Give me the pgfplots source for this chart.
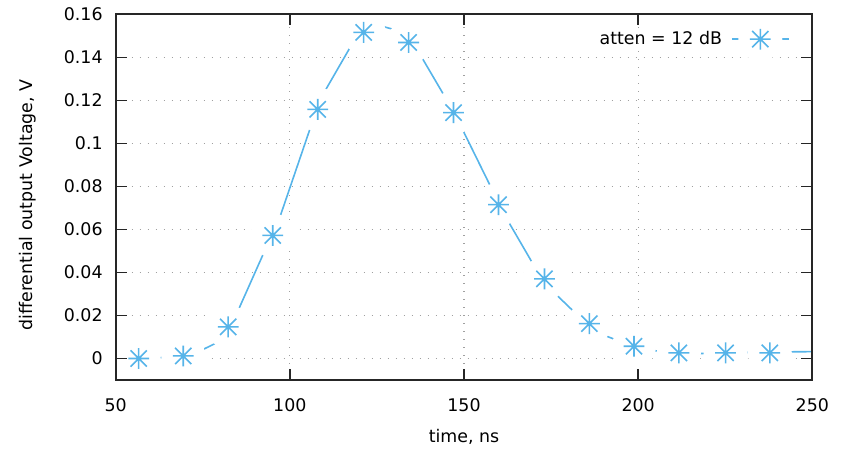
\documentclass[border=0pt]{standalone}
\usepackage{fontspec}
\setmainfont{DejaVu Sans}
\usepackage{pgfplots}
\pgfplotsset{compat=1.18}

\definecolor{gpblue}{HTML}{56B4E9}
\definecolor{gpgrid}{HTML}{A0A0A0}

% gnuplot pt 3 with a blank disc around it (pointinterval -1)
\pgfdeclareplotmark{gpstar}{%
  \begin{pgfscope}
    \pgfsetfillcolor{white}
    \pgfpathcircle{\pgfpointorigin}{11pt}
    \pgfusepathqfill
  \end{pgfscope}
  \pgfpathmoveto{\pgfqpoint{-\pgfplotmarksize}{0pt}}
  \pgfpathlineto{\pgfqpoint{\pgfplotmarksize}{0pt}}
  \pgfpathmoveto{\pgfqpoint{0pt}{-\pgfplotmarksize}}
  \pgfpathlineto{\pgfqpoint{0pt}{\pgfplotmarksize}}
  \pgfpathmoveto{\pgfqpoint{-0.78\pgfplotmarksize}{-0.78\pgfplotmarksize}}
  \pgfpathlineto{\pgfqpoint{0.78\pgfplotmarksize}{0.78\pgfplotmarksize}}
  \pgfpathmoveto{\pgfqpoint{-0.78\pgfplotmarksize}{0.78\pgfplotmarksize}}
  \pgfpathlineto{\pgfqpoint{0.78\pgfplotmarksize}{-0.78\pgfplotmarksize}}
  \pgfusepathqstroke
}

% grid behind the curve, border and ticks above it
\pgfplotsset{
  layers/gp/.define layer set={
    axis background,axis grid,pre main,main,axis ticks,axis lines,axis tick labels,axis descriptions,axis foreground
  }{/pgfplots/layers/standard},
}

\pgfplotstableread{
t      v
56.6   0.0000
62.8   0.0004
69.4   0.0012
74.7   0.0039
79.0   0.0073
82.3   0.0147
85.2   0.0225
92.9   0.0505
95.1   0.0572
97.2   0.0660
105.8  0.1068
108.0  0.1158
110.1  0.1244
117.3  0.1446
121.2  0.1516
124.5  0.1545
127.0  0.1542
129.5  0.1531
134.1  0.1469
137.9  0.1399
144.1  0.1228
147.0  0.1143
149.8  0.1057
157.5  0.0804
159.9  0.0715
162.9  0.0632
169.4  0.0451
173.1  0.0370
176.6  0.0295
181.6  0.0217
186.0  0.0162
189.5  0.0113
193.4  0.0088
198.8  0.0057
204.8  0.0036
211.7  0.0026
217.7  0.0023
225.1  0.0026
231.1  0.0028
237.8  0.0026
244.0  0.0031
252.0  0.0032
}\attendata

\begin{document}
\begin{tikzpicture}[font=\fontsize{8.7}{10.4}\selectfont]
\begin{axis}[
  set layers=gp,
  scale only axis,
  width=348.3pt, height=182.85pt,
  xmin=50, xmax=250,
  ymin=-0.01, ymax=0.16,
  xtick={50,100,...,250},
  ytick={0,0.02,...,0.16},
  scaled y ticks=false,
  yticklabel style={/pgf/number format/fixed,/pgf/number format/precision=2,xshift=-3pt},
  xticklabel style={yshift=-6pt},
  /pgf/number format/assume math mode=true,
  axis line style={black!85, line width=0.9pt},
  tick align=inside,
  major tick length=5.4pt,
  tick style={black!85, line width=0.8pt},
  grid=major,
  major grid style={gpgrid, line width=0.6pt, dash pattern=on 0.7pt off 3.3pt},
  xlabel={time, ns},
  ylabel={differential output Voltage, V},
  xlabel style={at={(axis description cs:0.5,-0.156)}, anchor=center},
  ylabel style={at={(axis description cs:-0.126,0.4785)}, anchor=center},
  legend style={draw=none, fill=none, at={(axis description cs:0.968,0.932)}, anchor=east,
    inner sep=0pt, /tikz/every odd column/.append style={column sep=2.5pt}},
  legend plot pos=right,
  legend image code/.code={
    \draw[#1, mark indices={2}] plot coordinates {(0pt,0pt) (14.25pt,0pt) (28.5pt,0pt)};},
]
\addplot[gpblue, line width=0.8pt, mark=gpstar, mark size=5.2pt,
  mark options={solid, line width=0.8pt},
  mark indices={1,3,6,9,12,15,19,22,25,28,31,34,36,38,40}]
  table[x=t, y=v] {\attendata};
\addlegendentry{atten = 12 dB}
\end{axis}
\pgfresetboundingbox
\path[use as bounding box] (-57.85pt,-37.5pt) rectangle (366.15pt,190pt);
\end{tikzpicture}
\end{document}
